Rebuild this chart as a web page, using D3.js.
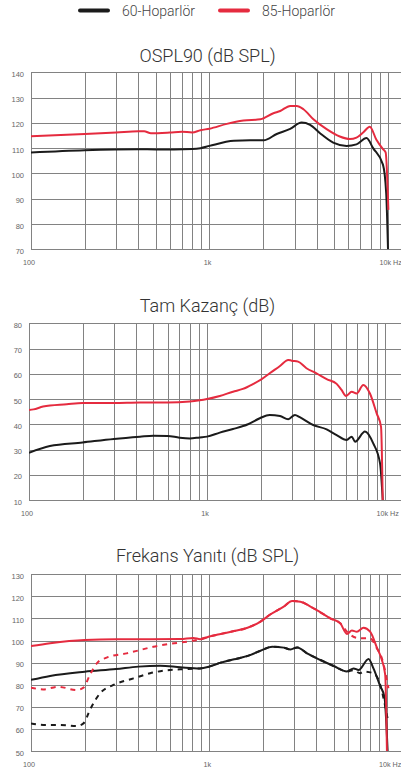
<!DOCTYPE html>
<html>
<head>
<meta charset="utf-8">
<script src="https://cdn.jsdelivr.net/npm/d3@7"></script>
<style>
  html, body { margin: 0; padding: 0; background: #fff; }
  svg { display: block; }
</style>
</head>
<body>
<svg id="chart" width="401" height="772"></svg>
<script>
// Series names and colours
const seriesNames = ["60-Hoparlör", "85-Hoparlör"];
const seriesColors = ["#1b1b1b", "#e52b3f"];

// Panel titles
const panelTitles = ["OSPL90 (dB SPL)", "Tam Kazanç (dB)", "Frekans Yanıtı (dB SPL)"];

// Axis tick labels
const xTickLabels = [[100, "100"], [1000, "1k"], [10000, "10k Hz"]];
const osplTicks = [70, 80, 90, 100, 110, 120, 130, 140];
const gainTicks = [10, 20, 30, 40, 50, 60, 70, 80];
const respTicks = [50, 60, 70, 80, 90, 100, 110, 120, 130];

// OSPL90 curves [Hz, dB SPL]
const ospl60 = [[100,108.3],[200,109.2],[400,109.6],[500,109.5],[800,109.7],[890,110],[1000,110.9],[1370,112.9],[1690,113.1],[2010,113.1],[2380,115.6],[2830,117.6],[3280,120.1],[3660,119.2],[4160,115.9],[4930,112.2],[5860,110.9],[6660,111.5],[7580,114.0],[8250,110.0],[9370,103.5],[9770,92.2],[10000,70]];
const ospl85 = [[100,114.7],[200,115.6],[300,116.2],[400,116.7],[430,116.7],[470,115.9],[600,116.2],[700,116.5],[800,116.2],[890,117.1],[1000,117.7],[1250,119.6],[1550,120.9],[1930,121.4],[2280,123.8],[2490,124.7],[2830,126.7],[3080,126.7],[3360,125.4],[3820,121.4],[4530,117.5],[5370,114.6],[6120,113.6],[6660,114.2],[7260,116.2],[7910,118.5],[8610,113.3],[9370,109.6],[9700,108.3],[10050,85.6]];

// Full-on gain curves [Hz, dB]
const gain60 = [[100,28.7],[131,31.4],[200,32.8],[300,34.2],[420,35.1],[500,35.5],[600,35.4],[700,34.7],[800,34.4],[910,34.8],[1000,35.1],[1180,36.7],[1400,38.1],[1700,40],[1980,42.4],[2250,43.7],[2570,43.3],[2860,42],[3120,43.7],[3320,42.8],[3950,39.7],[4700,38],[5350,35.7],[6090,33.8],[6500,35.1],[6790,33.1],[7720,37.1],[8590,32.4],[9380,24.5],[9710,10]];
const gain85 = [[100,45.7],[106,45.9],[120,47],[163,47.9],[200,48.4],[300,48.4],[420,48.6],[600,48.6],[800,49],[910,49.5],[1000,50],[1180,51.2],[1400,52.9],[1590,54],[1820,56],[2020,57.8],[2250,60.2],[2570,63.1],[2860,65.5],[2990,65.2],[3250,64.8],[3620,62.2],[4120,60.2],[4700,57.9],[5350,56],[5700,53.6],[6040,51.2],[6500,52.9],[6930,52.2],[7550,55.6],[8230,52.2],[8980,44.3],[9500,39],[9710,10]];

// Frequency response curves [Hz, dB SPL]; the dashed ones are the second measurement
const resp60 = [[100,82.2],[128,84],[200,85.9],[300,87.1],[400,88.2],[530,88.6],[690,87.9],[890,87.4],[1000,88.2],[1160,90],[1380,91.5],[1710,93.5],[1940,95.4],[2260,97.2],[2620,96.8],[2860,96],[3120,96.9],[3540,94.2],[4210,91.2],[4990,88.5],[5930,86],[6460,87.4],[6890,86.7],[7840,91.7],[8350,87.4],[9110,79.4],[9620,74.6],[10030,50]];
const resp60b = [[100,62.5],[117,61.8],[145,61.8],[180,61.3],[197,62.5],[214,68.6],[244,76.1],[290,79.9],[376,82.9],[466,85.2],[602,86.7],[690,87],[888,87.4],[1000,88.2],[1160,90],[1380,91.5],[1710,93.5],[1940,95.4],[2260,97.2],[2620,96.8],[2860,96],[3120,96.9],[3540,94.2],[4210,91.2],[4990,88.5],[5930,86],[6460,86.6],[7030,85.2],[7340,86],[8350,85.2],[9110,80],[9620,72],[10130,62.7]];
const resp85 = [[100,97.5],[128,98.8],[200,100.3],[300,100.6],[470,100.6],[690,100.7],[815,101.2],[890,100.6],[1000,101.8],[1160,103],[1380,104.3],[1640,105.8],[1940,108.6],[2210,111.9],[2620,115.4],[2920,117.9],[3250,117.6],[3700,115.4],[4210,112.8],[4780,110.1],[5440,107.8],[5930,103],[6320,104.5],[6740,104],[7340,105.8],[8000,104],[8720,96.9],[9310,91.2],[9725,84.4],[9940,50]];
const resp85b = [[100,78.7],[117,77.9],[142,79.1],[180,77.6],[197,78.7],[214,84.4],[234,89.7],[266,92.3],[344,94.2],[409,95.7],[486,97.2],[602,98.5],[749,99.5],[888,100.6],[1000,101.8],[1160,103],[1380,104.3],[1640,105.8],[1940,108.6],[2210,111.9],[2620,115.4],[2920,117.9],[3250,117.6],[3700,115.4],[4210,112.8],[4780,110.1],[5440,107.8],[5930,104],[6740,101.2],[7340,101],[8000,101],[8720,96.5],[9310,92],[9720,86],[10130,78.4]];

const svg = d3.select("#chart");
const W = 401;

// Legend
const legend = svg.append("g");
const legendItems = [{x: 78, tx: 122}, {x: 218, tx: 262}];
legendItems.forEach((it, i) => {
  legend.append("line")
    .attr("x1", it.x + 2).attr("x2", it.x + 30)
    .attr("y1", 10.5).attr("y2", 10.5)
    .attr("stroke", seriesColors[i]).attr("stroke-width", 4)
    .attr("stroke-linecap", "round");
  legend.append("text")
    .attr("x", it.tx).attr("y", 15.5)
    .attr("font-family", "Roboto, sans-serif").attr("font-weight", 300)
    .attr("font-size", 14).attr("fill", "#444")
    .text(seriesNames[i]);
});

function panel(cfg) {
  const g = svg.append("g");
  const x = d3.scaleLog().domain([100, 10000]).range([cfg.left, cfg.left + 2 * cfg.decade]);
  const y = d3.scaleLinear().domain(d3.extent(cfg.ticks)).range([cfg.bottom, cfg.top]);

  // Title
  g.append("text")
    .attr("x", 207.5).attr("y", cfg.titleY)
    .attr("text-anchor", "middle")
    .attr("font-family", "Roboto, sans-serif").attr("font-weight", 300)
    .attr("font-size", 18).attr("fill", "#333")
    .text(cfg.title);

  const right = W + 2;
  const gridFreqs = d3.scaleLog().domain([100, 10000]).ticks();

  // Horizontal grid
  g.append("g").selectAll("line").data(cfg.ticks).join("line")
    .attr("x1", cfg.left).attr("x2", right)
    .attr("y1", d => Math.round(y(d)) + 0.5).attr("y2", d => Math.round(y(d)) + 0.5)
    .attr("stroke", "#828282").attr("stroke-width", 1);

  // Vertical grid
  g.append("g").selectAll("line").data(gridFreqs).join("line")
    .attr("x1", d => Math.round(x(d)) + 0.5).attr("x2", d => Math.round(x(d)) + 0.5)
    .attr("y1", Math.round(cfg.top) + 0.5).attr("y2", Math.round(cfg.bottom) + 0.5)
    .attr("stroke", "#828282").attr("stroke-width", 1);

  // Y labels
  g.append("g").selectAll("text").data(cfg.ticks).join("text")
    .attr("x", cfg.left - 7).attr("y", d => y(d) + 4.5)
    .attr("text-anchor", "end")
    .attr("font-family", "'Liberation Sans', Arial, sans-serif")
    .attr("font-size", 7.5).attr("fill", "#666")
    .text(d => d);

  // X labels
  g.append("g").selectAll("text").data(xTickLabels).join("text")
    .attr("x", d => d[0] === 10000 ? x(d[0]) - 8.5 : x(d[0]) - 2)
    .attr("y", cfg.bottom + 16)
    .attr("text-anchor", d => d[0] === 10000 ? "start" : "middle")
    .attr("font-family", "'Liberation Sans', Arial, sans-serif")
    .attr("font-size", 7.2).attr("fill", "#666")
    .text(d => d[1]);

  const clipId = "clip" + cfg.id;
  svg.append("clipPath").attr("id", clipId).append("rect")
    .attr("x", cfg.left).attr("y", cfg.top - 5)
    .attr("width", right - cfg.left).attr("height", cfg.bottom - cfg.top + 5);

  const line = d3.line().x(d => x(d[0])).y(d => y(d[1])).curve(d3.curveMonotoneX);
  const lines = g.append("g").attr("clip-path", `url(#${clipId})`);
  cfg.series.forEach(s => {
    lines.append("path")
      .attr("d", line(s.data))
      .attr("fill", "none")
      .attr("stroke", seriesColors[s.c])
      .attr("stroke-width", 2)
      .attr("stroke-linejoin", "round")
      .attr("stroke-dasharray", s.dash ? "5,5" : null);
  });
}

panel({id: 1, title: panelTitles[0], titleY: 62, left: 31, decade: 178.5, top: 72.3, bottom: 249.3,
  ticks: osplTicks, series: [{data: ospl60, c: 0}, {data: ospl85, c: 1}]});
panel({id: 2, title: panelTitles[1], titleY: 312, left: 29, decade: 178, top: 323.3, bottom: 500,
  ticks: gainTicks, series: [{data: gain60, c: 0}, {data: gain85, c: 1}]});
panel({id: 3, title: panelTitles[2], titleY: 562, left: 31, decade: 178.2, top: 574.3, bottom: 751,
  ticks: respTicks, series: [{data: resp60b, c: 0, dash: true}, {data: resp60, c: 0}, {data: resp85b, c: 1, dash: true}, {data: resp85, c: 1}]});
</script>
</body>
</html>
